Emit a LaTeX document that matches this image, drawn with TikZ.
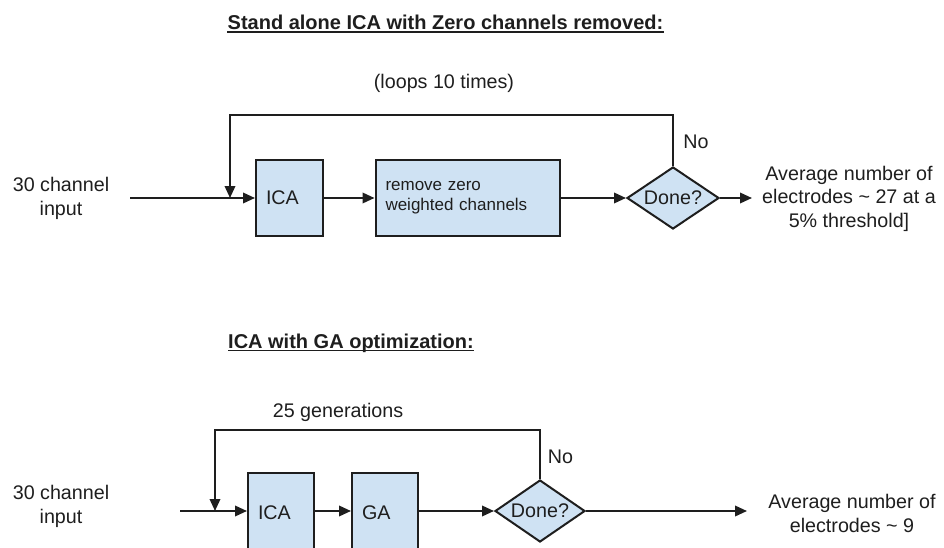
\documentclass[tikz,border=0pt]{standalone}
\usepackage{fontspec}
\setmainfont{Liberation Sans}
\usetikzlibrary{shapes.geometric,arrows.meta}
\definecolor{boxfill}{HTML}{CFE2F3}
\definecolor{ink}{HTML}{1E1E1E}

\begin{document}
\begin{tikzpicture}[x=1pt,y=-1pt,
  every node/.style={text=ink},
  txt/.style={font=\fontsize{19.7}{23.5}\selectfont, align=center, inner sep=0pt},
  heading/.style={font=\bfseries\fontsize{20}{24}\selectfont, inner sep=0pt},
  procbox/.style={draw=ink, fill=boxfill, line width=2pt, minimum height=#1,
    inner xsep=10pt, align=left, font=\fontsize{19.7}{23.5}\selectfont},
  procbox/.default=76pt,
  decision/.style={diamond, draw=ink, fill=boxfill, line width=2pt,
    minimum width=#1, minimum height=62pt, inner sep=0pt, shape aspect=1.5,
    font=\fontsize{19.7}{23.5}\selectfont},
  decision/.default=92pt,
  flow/.style={draw=ink, line width=2pt},
  arrowline/.style={flow, -{Triangle[length=12pt,width=10.5pt]}},
]
\useasboundingbox (0,0) rectangle (944,548);
\clip (0,0) rectangle (944,548);

% ---------- Stand alone ICA ----------
\node[heading, anchor=base] (t1) at (445.5,29.5) {Stand alone ICA with Zero channels removed:};
\draw[ink, line width=1.6pt] ([yshift=-2.5pt]t1.base west) -- ([yshift=-2.5pt]t1.base east);

\node[txt] (loops) at (444,83) {(loops 10 times)};

\node[txt] (in1) at (61,198.5) {30 channel\\input};
\coordinate (s1) at (130,198);
\coordinate (j1) at (230,198);
\coordinate (c1) at (230,115);

\node[procbox, text width=47pt] (ica1) at (289.5,198) {ICA};
\node[procbox, text width=164pt, font=\fontsize{17}{20}\selectfont] (rm1) at (467.5,198) {remove zero\\weighted channels};
\node[decision] (d1) at (673,198) {Done?};
\node[txt] (no1) at (696,142) {No};

\coordinate (o1) at (752,198);
\node[txt] (out1) at (849,198.5) {Average number of\\electrodes \char`~{} 27 at a\\5\% threshold]};

\draw[arrowline] (s1) -- (ica1.west);
\draw[arrowline] (ica1.east) -- (rm1.west);
\draw[arrowline] (rm1.east) -- (d1.west);
\draw[arrowline] (d1.east) -- (o1);
\draw[arrowline] (d1.north) |- (c1) -- (j1);

% ---------- ICA with GA optimization ----------
\node[heading, anchor=base west] (t2) at (228,348) {ICA with GA optimization:};
\draw[ink, line width=1.6pt] ([yshift=-2.5pt]t2.base west) -- ([yshift=-2.5pt]t2.base east);

\node[txt] (gens) at (338,412) {25 generations};

\node[txt] (in2) at (61,506.5) {30 channel\\input};
\coordinate (s2) at (180,511);
\coordinate (j2) at (215,511);
\coordinate (c2) at (215,430);

\node[procbox=80pt, text width=46pt] (ica2) at (281,513) {ICA};
\node[procbox=80pt, text width=46pt] (ga2) at (385,513) {GA};
\node[decision=90pt] (d2) at (540,511) {Done?};
\node[txt] (no2) at (560.5,457) {No};

\coordinate (o2) at (747,511);
\node[txt] (out2) at (852,513.5) {Average number of\\electrodes \char`~{} 9};

\draw[arrowline] (s2) -- (ica2.west |- s2);
\draw[arrowline] (ica2.east |- s2) -- (ga2.west |- s2);
\draw[arrowline] (ga2.east |- s2) -- (d2.west);
\draw[arrowline] (d2.east) -- (o2);
\draw[arrowline] (d2.north) |- (c2) -- (j2);
\end{tikzpicture}
\end{document}
